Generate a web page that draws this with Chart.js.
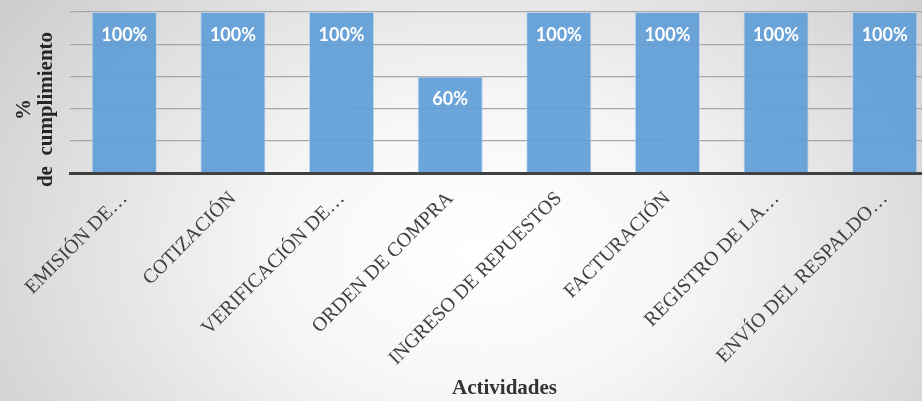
<!DOCTYPE html>
<html>
<head>
<meta charset="utf-8">
<script src="https://cdn.jsdelivr.net/npm/chart.js@4"></script>
<style>
	html, body {
		margin: 0;
		width: 922px;
		height: 401px;
		overflow: hidden;
		background: radial-gradient(ellipse 600px 430px at 480px 250px, #ffffff 0%, #f6f6f6 35%, #cbcbcb 100%);
	}
	#wrap {
		position: relative;
		width: 939px;
		height: 401px;
	}
</style>
</head>
<body>
<div id="wrap"><canvas id="myChart"></canvas></div>
<script>
const actividades = [
	'EMISIÓN DE…',
	'COTIZACIÓN',
	'VERIFICACIÓN DE…',
	'ORDEN DE COMPRA',
	'INGRESO DE REPUESTOS',
	'FACTURACIÓN',
	'REGISTRO DE LA…',
	'ENVÍO DEL RESPALDO…'
];
const cumplimiento = [100, 100, 100, 60, 100, 100, 100, 100];
const yTitle = ['%', 'de  cumplimiento'];
const xTitle = 'Actividades';

// white percentage label near the top of each bar
const barValues = {
	id: 'barValues',
	afterDatasetsDraw(chart) {
		let ctx = chart.ctx;
		let meta = chart.getDatasetMeta(0);
		ctx.save();
		ctx.fillStyle = '#ffffff';
		ctx.font = 'bold 18px Lato';
		ctx.textAlign = 'center';
		ctx.textBaseline = 'middle';
		meta.data.forEach(function (bar, i) {
			ctx.fillText(chart.data.datasets[0].data[i] + '%', bar.x, bar.y + 23);
		});
		ctx.restore();
	}
};

// two-line vertical title on the left
const valueTitle = {
	id: 'valueTitle',
	afterDraw(chart) {
		let ctx = chart.ctx;
		let area = chart.chartArea;
		ctx.save();
		ctx.translate(25, (area.top + area.bottom) / 2 + 17);
		ctx.rotate(-Math.PI / 2);
		ctx.fillStyle = '#262626';
		ctx.font = 'bold 21px "Liberation Serif"';
		ctx.textAlign = 'center';
		ctx.textBaseline = 'middle';
		yTitle.forEach(function (line, i) {
			ctx.fillText(line, 0, i * 22);
		});
		ctx.restore();
	}
};

function createBarChart(elID, labels, values) {
	let ctx = document.getElementById(elID).getContext('2d');
	return new Chart(ctx, {
		type: 'bar',
		data: {
			labels: labels,
			datasets: [{
				data: values,
				backgroundColor: 'rgba(96,157,214,0.92)',
				borderColor: 'rgba(185,212,238,0.9)',
				borderWidth: 1,
				barPercentage: 0.6,
				categoryPercentage: 1
			}]
		},
		options: {
			responsive: true,
			maintainAspectRatio: false,
			animation: false,
			layout: { padding: { top: 12, right: 0, bottom: 0, left: 0 } },
			plugins: {
				legend: { display: false },
				tooltip: { enabled: false }
			},
			scales: {
				x: {
					grid: { display: false },
					border: { color: '#404040', width: 3 },
					ticks: {
						autoSkip: false,
						minRotation: 45,
						maxRotation: 45,
						padding: 6,
						color: '#404040',
						font: { family: '"Liberation Serif"', size: 20 }
					},
					title: {
						display: true,
						text: xTitle,
						color: '#333333',
						padding: 0,
						font: { family: '"Liberation Serif"', size: 21, weight: 'bold' }
					},
					afterFit(scale) {
						scale.height = 228;
					}
				},
				y: {
					min: 0,
					max: 100,
					border: { display: false },
					grid: { color: '#a6a6a6', lineWidth: 1.3, drawTicks: false },
					ticks: { display: false, stepSize: 20 },
					afterFit(scale) {
						scale.width = 70;
					}
				}
			}
		},
		plugins: [barValues, valueTitle]
	});
}

createBarChart('myChart', actividades, cumplimiento);
</script>
</body>
</html>
